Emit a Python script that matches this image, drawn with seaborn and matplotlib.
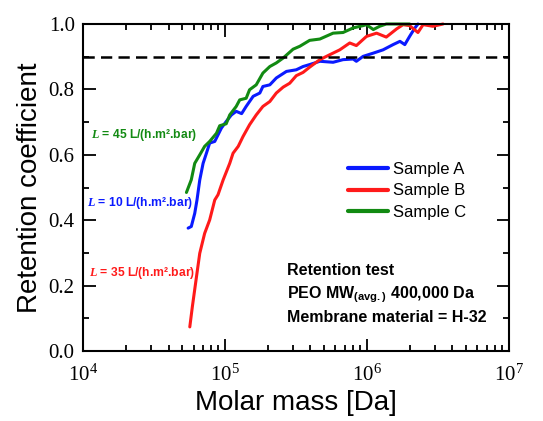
import numpy as np
import pandas as pd
import matplotlib
matplotlib.use('Agg')
import matplotlib.pyplot as plt
import seaborn as sns
from matplotlib.ticker import LogLocator, MultipleLocator, NullFormatter

# Sample A (blue)
mass_a = [55000, 57900, 61200, 63500, 66400, 70100, 74000, 78000, 84700, 89300,
          94400, 102000, 111000, 120000, 131000, 141000, 158000, 176000, 185000, 207000,
          230000, 271000, 318000, 355000, 395000, 466000, 578000, 679000, 800000, 843000,
          940000, 1110000, 1300000, 1530000, 1710000, 1850000, 2000000, 2180000, 2290000]
ret_a = [0.376, 0.381, 0.421, 0.462, 0.523, 0.574, 0.605, 0.636, 0.641, 0.661,
         0.682, 0.702, 0.722, 0.733, 0.726, 0.748, 0.779, 0.789, 0.809, 0.814,
         0.835, 0.855, 0.860, 0.870, 0.876, 0.886, 0.883, 0.891, 0.893, 0.886,
         0.901, 0.911, 0.921, 0.937, 0.947, 0.937, 0.962, 0.988, 1.0]

# Sample B (red)
mass_b = [56500, 58900, 63000, 66400, 71900, 78000, 84700, 89300, 97000, 108000,
          114000, 124000, 134000, 149000, 166000, 185000, 207000, 230000, 257000, 286000,
          318000, 355000, 395000, 466000, 547000, 644000, 757000, 843000, 993000, 1170000,
          1370000, 1620000, 1800000, 2000000, 2290000, 2490000, 2920000, 3440000]
ret_b = [0.074, 0.136, 0.228, 0.299, 0.360, 0.401, 0.462, 0.478, 0.523, 0.574,
         0.605, 0.626, 0.656, 0.692, 0.722, 0.748, 0.763, 0.789, 0.807, 0.819,
         0.842, 0.852, 0.868, 0.891, 0.906, 0.921, 0.942, 0.934, 0.962, 0.972,
         0.960, 0.985, 0.998, 0.995, 0.974, 0.998, 0.993, 1.0]

# Sample C (green)
mass_c = [53500, 57900, 61200, 66400, 71900, 78000, 87100, 91800, 102000, 108000,
          120000, 127000, 141000, 149000, 166000, 185000, 207000, 230000, 257000, 302000,
          337000, 395000, 466000, 578000, 679000, 800000, 940000, 993000, 1110000, 1230000,
          1370000, 2000000]
ret_c = [0.485, 0.524, 0.574, 0.600, 0.626, 0.641, 0.666, 0.689, 0.695, 0.722,
         0.748, 0.768, 0.773, 0.799, 0.814, 0.850, 0.870, 0.881, 0.896, 0.923,
         0.932, 0.950, 0.954, 0.972, 0.974, 0.988, 0.995, 0.998, 0.983, 0.993,
         1.0, 1.0]

samples = ['Sample A', 'Sample B', 'Sample C']
colors = ['#0a1aff', '#ff1a1a', '#128a12']
flux_labels = ['$L$ = 10 L/(h.m².bar)', '$L$ = 35 L/(h.m².bar)', '$L$ = 45 L/(h.m².bar)']

sns.set_style('ticks')
plt.rcParams['font.family'] = ['Liberation Sans', 'DejaVu Sans']
plt.rcParams['text.color'] = 'black'
plt.rcParams['axes.labelcolor'] = 'black'
plt.rcParams['xtick.labelcolor'] = 'black'
plt.rcParams['ytick.labelcolor'] = 'black'
plt.rcParams['mathtext.fontset'] = 'custom'
plt.rcParams['mathtext.rm'] = 'Liberation Serif'
plt.rcParams['mathtext.it'] = 'Liberation Serif:italic:bold'
plt.rcParams['mathtext.bf'] = 'Liberation Sans:bold'

fig = plt.figure(figsize=(5.43, 4.21), dpi=100)
ax = fig.add_axes([0.153, 0.166, 0.784, 0.777])

data = [(mass_a, ret_a), (mass_b, ret_b), (mass_c, ret_c)]
for (m, r), name, col in zip(data, samples, colors):
    sns.lineplot(x=m, y=r, ax=ax, color=col, lw=2.2, label=name,
                 sort=False, clip_on=False)

ax.axhline(0.9, color='black', lw=1.8, ls=(0, (4.5, 2.5)))

ax.set_xscale('log')
ax.set_xlim(1e4, 1e7)
ax.set_ylim(0, 1.0)
ax.xaxis.set_major_locator(LogLocator(base=10, numticks=10))
ax.xaxis.set_minor_locator(LogLocator(base=10, subs=np.arange(2, 10), numticks=20))
ax.xaxis.set_minor_formatter(NullFormatter())
ax.yaxis.set_major_locator(MultipleLocator(0.2))
ax.yaxis.set_minor_locator(MultipleLocator(0.1))
ax.set_xticks([1e4, 1e5, 1e6, 1e7])
ax.set_xticklabels(['$10^4$', '$10^5$', '$10^6$', '$10^7$'])
ax.set_yticklabels(['%.1f' % v for v in ax.get_yticks()], family='Liberation Serif')

ax.tick_params(which='both', direction='in', top=True, right=True, labelsize=15,
               width=1.3, color='black', pad=6)
ax.tick_params(axis='x', which='major', pad=9)
ax.tick_params(which='major', length=9)
ax.tick_params(which='minor', length=4.5)
for s in ax.spines.values():
    s.set_linewidth(1.5)
    s.set_color('black')

ax.set_xlabel('Molar mass [Da]', fontsize=20, labelpad=4)
ax.set_ylabel('Retention coefficient', fontsize=20, labelpad=4)

ax.legend(loc='upper left', bbox_to_anchor=(0.622, 0.578), frameon=False,
          fontsize=12, handlelength=2.4, handletextpad=0.3, labelspacing=0.38,
          borderpad=0, borderaxespad=0)
for h in ax.get_legend().get_lines():
    h.set_linewidth(3)

# flux annotations next to curve starts
ax.text(0.009, 0.453, flux_labels[0], color=colors[0], fontsize=8.7,
        fontweight='bold', transform=ax.transAxes, va='center')
ax.text(0.014, 0.239, flux_labels[1], color=colors[1], fontsize=8.7,
        fontweight='bold', transform=ax.transAxes, va='center')
ax.text(0.019, 0.661, flux_labels[2], color=colors[2], fontsize=8.7,
        fontweight='bold', transform=ax.transAxes, va='center')

# test description
ax.text(0.479, 0.232, 'Retention test', fontsize=11.5, fontweight='bold',
        transform=ax.transAxes, va='baseline')
ax.text(0.479, 0.162, r'PEO MW$_{\mathbf{(avg.)}}$ 400,000 Da', fontsize=11.5,
        fontweight='bold', transform=ax.transAxes, va='baseline')
ax.text(0.479, 0.089, 'Membrane material = H-32', fontsize=11.5, fontweight='bold',
        transform=ax.transAxes, va='baseline')

fig.savefig('out.png', dpi=100)
